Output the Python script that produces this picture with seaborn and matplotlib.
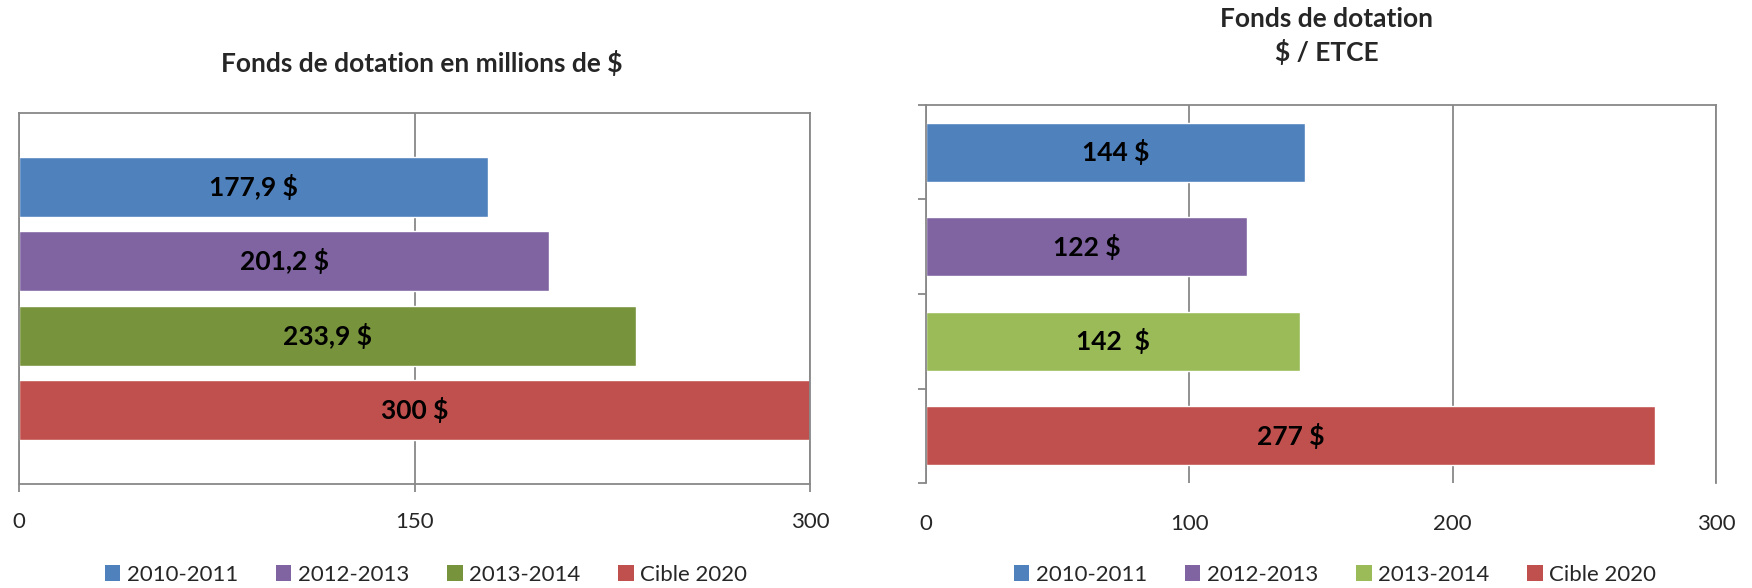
import pandas as pd
import matplotlib
matplotlib.use('Agg')
import matplotlib.pyplot as plt
from matplotlib.patches import Patch
import seaborn as sns

# Donnees
periodes = ['2010-2011', '2012-2013', '2013-2014', 'Cible 2020']
fonds_millions = [177.9, 201.2, 233.9, 300]
fonds_etce = [144, 122, 142, 277]
etiq_millions = [r'177,9 \$', r'201,2 \$', r'233,9 \$', r'300 \$']
etiq_etce = [r'144 \$', r'122 \$', r'142  \$', r'277 \$']
couleurs_gauche = ['#4F81BD', '#8064A2', '#77933C', '#C0504D']
couleurs_droite = ['#4F81BD', '#8064A2', '#9BBB59', '#C0504D']

GRIS = '#888888'
W, H = 1752, 588

sns.set_style('white')
plt.rcParams['font.family'] = ['Lato', 'DejaVu Sans']

fig = plt.figure(figsize=(W / 100, H / 100), dpi=100)
ax1 = fig.add_axes([19 / W, 1 - 484 / H, 791 / W, 371 / H])
ax2 = fig.add_axes([926 / W, 1 - 483 / H, 790 / W, 378 / H])


def barres(ax, valeurs, couleurs, etiquettes, largeur):
    df = pd.DataFrame({'periode': periodes, 'valeur': valeurs})
    sns.barplot(data=df, x='valeur', y='periode', hue='periode', palette=couleurs,
                orient='h', width=largeur, saturation=1, legend=False, ax=ax, zorder=2)
    for p in ax.patches:
        i = int(round(p.get_y() + p.get_height() / 2))
        ax.text(p.get_x() + p.get_width() / 2, p.get_y() + p.get_height() / 2,
                etiquettes[i], ha='center', va='center', fontsize=19,
                fontweight='bold', color='black', zorder=3)
    ax.set_xlabel('')
    ax.set_ylabel('')
    ax.set_axisbelow(True)
    ax.xaxis.grid(True, color=GRIS, lw=1.3)
    for s in ax.spines.values():
        s.set_color(GRIS)
        s.set_linewidth(1.3)


# graphique de gauche
barres(ax1, fonds_millions, couleurs_gauche, etiq_millions, 0.8)
ax1.set_xlim(0, 300)
ax1.set_xticks([0, 150, 300])
ax1.set_ylim(3.99, -0.99)
ax1.set_yticks([])
ax1.tick_params(axis='x', bottom=True, direction='out', length=6, width=1.3,
                color=GRIS, pad=14, labelsize=16)

# graphique de droite
barres(ax2, fonds_etce, couleurs_droite, etiq_etce, 0.62)
ax2.set_xlim(0, 300)
ax2.set_xticks([0, 100, 200, 300])
ax2.set_ylim(3.5, -0.5)
ax2.set_yticks([-0.5, 0.5, 1.5, 2.5, 3.5])
ax2.set_yticklabels([])
ax2.spines['bottom'].set_visible(False)
ax2.tick_params(axis='x', bottom=False, length=0, pad=22, labelsize=16)
ax2.tick_params(axis='y', left=True, direction='out', length=6, width=1.3, color=GRIS)

# titres
fig.text(422 / W, 1 - 63 / H, r'Fonds de dotation en millions de \$', ha='center',
         va='center', fontsize=19, fontweight='bold')
fig.text(1327 / W, 1 - 19 / H, 'Fonds de dotation', ha='center', va='center',
         fontsize=19, fontweight='bold')
fig.text(1327 / W, 1 - 52 / H, r'\$ / ETCE', ha='center', va='center',
         fontsize=19, fontweight='bold')

# legendes
for couleurs, cx in [(couleurs_gauche, 426), (couleurs_droite, 1335)]:
    poignees = [Patch(facecolor=c, edgecolor='none') for c in couleurs]
    fig.legend(poignees, periodes, loc='center', bbox_to_anchor=(cx / W, 1 - 575 / H),
               ncol=4, frameon=False, fontsize=16, handlelength=0.7, handleheight=0.7,
               handletextpad=0.3, columnspacing=1.7, borderpad=0)

fig.savefig('out.png', dpi=100)
